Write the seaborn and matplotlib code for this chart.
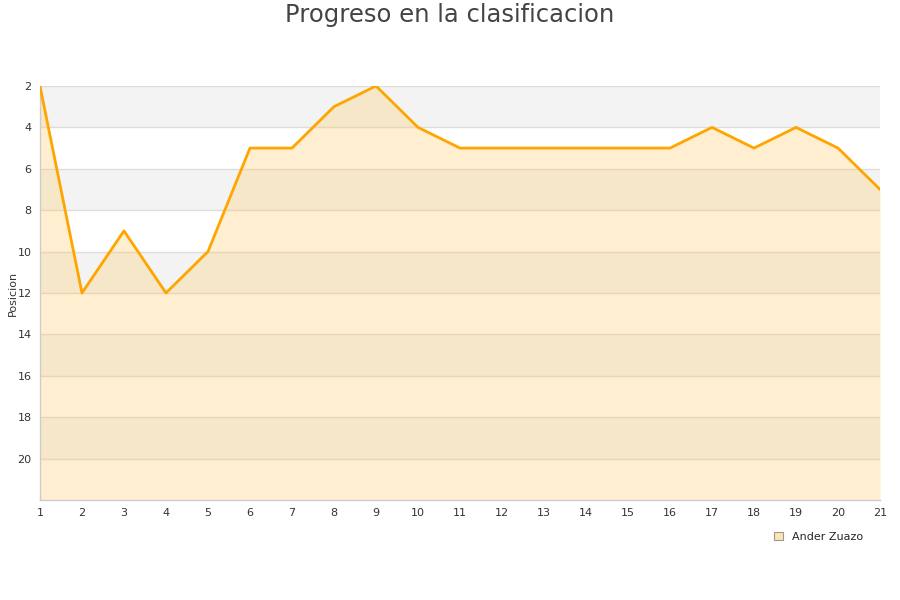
import matplotlib
matplotlib.use("Agg")
import matplotlib.pyplot as plt
import seaborn as sns
import pandas as pd
from matplotlib.patches import Patch

# Data
jornadas = list(range(1, 22))
posicion = [2, 12, 9, 12, 10, 5, 5, 3, 2, 4, 5, 5, 5, 5, 5, 5, 4, 5, 4, 5, 7]
jugador = "Ander Zuazo"

df = pd.DataFrame({"Jornada": jornadas, "Posicion": posicion})

sns.set_style("white")
plt.rcParams["font.family"] = ["DejaVu Sans"]

fig = plt.figure(figsize=(9, 6), dpi=100)
ax = fig.add_axes([0.0444, 0.1667, 0.9334, 0.69])

# alternating background bands
for y0 in range(2, 22, 4):
    ax.axhspan(y0, y0 + 2, color="#f3f3f3", zorder=0, lw=0)
for y in range(2, 22, 2):
    ax.axhline(y, color="#dddddd", lw=1, zorder=1)

ax.fill_between(df["Jornada"], df["Posicion"], 22, color="#ffcc66", alpha=0.3, lw=0, zorder=2)
sns.lineplot(data=df, x="Jornada", y="Posicion", color="#ffa500", lw=2, ax=ax, zorder=3)

ax.set_xlim(1, 21)
ax.set_ylim(22, 2)
ax.set_xticks(jornadas)
ax.set_yticks(range(2, 22, 2))
ax.tick_params(axis="both", labelsize=8, colors="#333333", length=0, pad=6)
ax.set_xlabel("")
ax.set_ylabel("Posicion", fontsize=8, color="#333333", labelpad=0)

for side in ["top", "right"]:
    ax.spines[side].set_visible(False)
for side in ["left", "bottom"]:
    ax.spines[side].set_color("#cccccc")
    ax.spines[side].set_linewidth(1)

fig.suptitle("Progreso en la clasificacion", fontsize=17.5, color="#444444", y=0.995)

handles = [Patch(facecolor="#ffe4b0", edgecolor="#999999", lw=0.8, label=jugador)]
fig.legend(handles=handles, loc="center right", bbox_to_anchor=(0.97, 0.105), frameon=False,
           fontsize=8, handlelength=0.8, handleheight=0.8, handletextpad=0.8)

fig.savefig("out.png", dpi=100)
